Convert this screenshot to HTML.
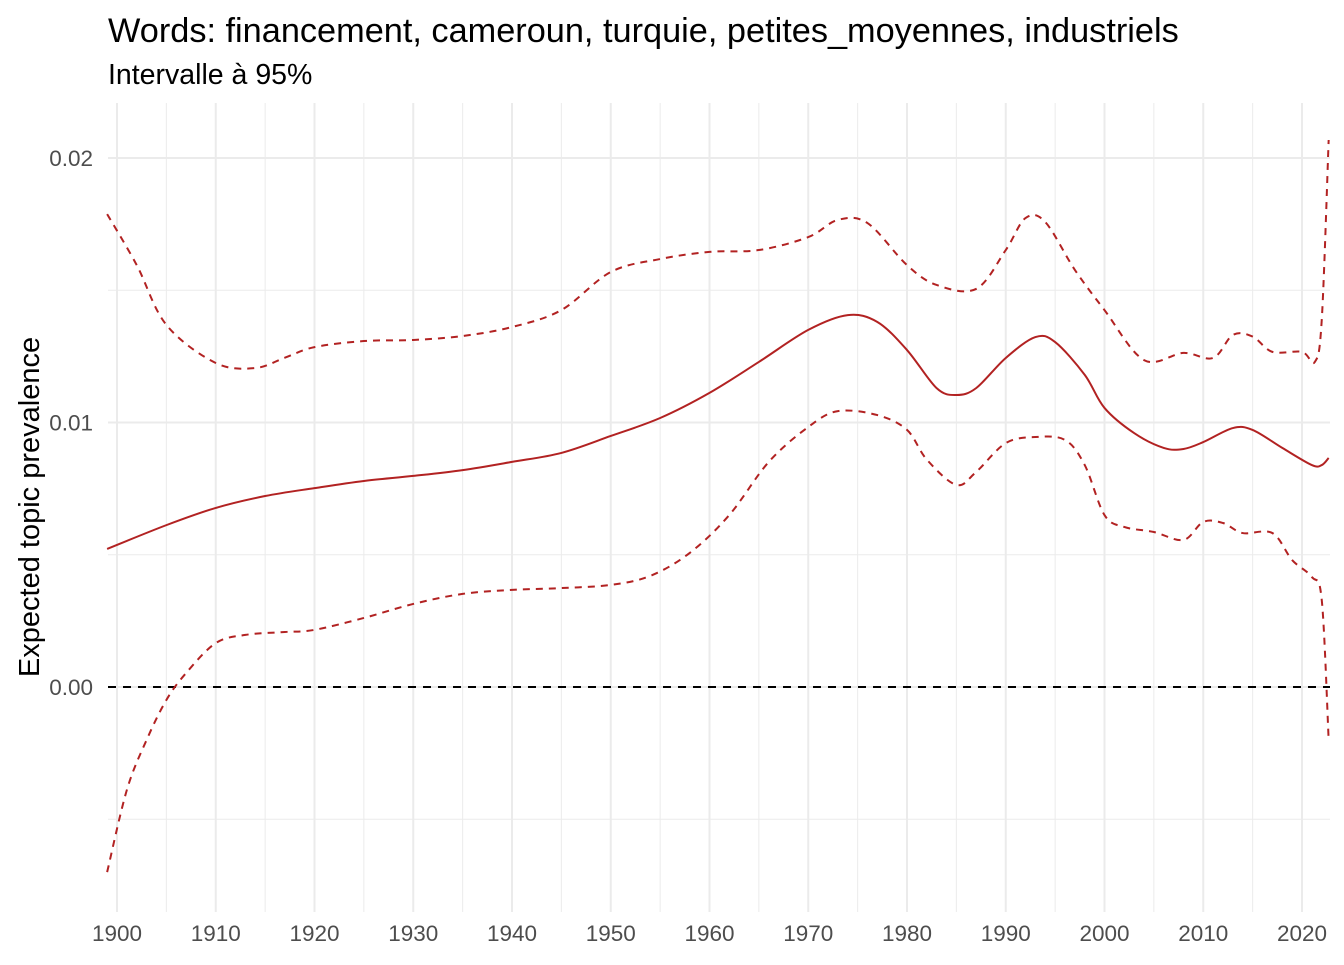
<!DOCTYPE html>
<html><head><meta charset="utf-8"><style>
body{margin:0;background:#fff;}
svg text{font-family:"Liberation Sans",Arial,sans-serif;}
</style></head><body>
<svg id="chart" width="1344" height="960" viewBox="0 0 1344 960">
<rect width="1344" height="960" fill="#fff"/>
<text x="108" y="42" font-size="34.3" fill="#000">Words: financement, cameroun, turquie, petites_moyennes, industriels</text>
<text x="108" y="84" font-size="28.5" fill="#000">Intervalle à 95%</text>
<text transform="translate(39,507) rotate(-90)" text-anchor="middle" font-size="29" fill="#000">Expected topic prevalence</text>
<g id="grid"></g>
<g id="ticks"></g>
<g id="series"></g>
</svg>
<script>
const xTicks=[1900,1910,1920,1930,1940,1950,1960,1970,1980,1990,2000,2010,2020];
const yTicks=[0,0.01,0.02];
const yTickLabels=["0.00","0.01","0.02"];
const meanYears=[1899,1905,1910,1915,1920,1925,1930,1935,1940,1945,1950,1955,1960,1965,1970,1974,1977,1980,1983,1985,1987,1990,1993,1995,1998,2000,2003,2006,2008,2010,2013,2015,2018,2021,2022,2022.7];
const meanVals=[0.00522,0.00612,0.00677,0.00722,0.00752,0.00779,0.00798,0.0082,0.00851,0.00885,0.00949,0.01017,0.01112,0.01229,0.0135,0.01406,0.0138,0.01274,0.0113,0.01104,0.0113,0.01244,0.01323,0.01304,0.0118,0.01055,0.0096,0.00904,0.009,0.00926,0.00979,0.00972,0.00904,0.00839,0.00839,0.00866];
const upperYears=[1899,1902,1905,1910,1914,1917,1920,1925,1930,1935,1940,1945,1950,1955,1960,1965,1970,1973,1976,1980,1983,1987,1990,1992,1994,1997,2000,2004,2008,2011,2013,2015,2017,2020,2021.3,2022,2022.7];
const upperVals=[0.01788,0.01595,0.01369,0.01225,0.01206,0.01245,0.01285,0.01308,0.01312,0.01327,0.01361,0.01425,0.01569,0.01618,0.01645,0.01652,0.01701,0.01766,0.01754,0.01595,0.0152,0.01505,0.01652,0.01773,0.01758,0.01577,0.01425,0.01236,0.01263,0.01244,0.01331,0.01325,0.01267,0.01267,0.01229,0.01388,0.02068];
const lowerYears=[1899,1901,1903,1905,1907,1910,1913,1917,1920,1925,1930,1935,1940,1945,1950,1954,1958,1962,1966,1970,1973,1977,1980,1982,1985,1987,1990,1993,1996,1998,2000,2002,2005,2008,2010,2012,2014,2017,2019,2021,2022,2022.7];
const lowerVals=[-0.007,-0.00389,-0.002,-0.00049,0.00053,0.00166,0.00197,0.00208,0.00216,0.00261,0.00314,0.00352,0.00367,0.00374,0.00386,0.0042,0.00507,0.0065,0.00851,0.00983,0.01043,0.01028,0.00972,0.0086,0.00764,0.00813,0.00922,0.00945,0.00934,0.00839,0.0065,0.00605,0.00586,0.00556,0.00624,0.0062,0.00582,0.00582,0.0048,0.00416,0.00329,-0.002];

const X=y=>117+(y-1900)*9.875;
const Y=v=>687-v*26450;
const ns="http://www.w3.org/2000/svg";
function mk(tag,attrs,parent){const e=document.createElementNS(ns,tag);for(const k in attrs)e.setAttribute(k,attrs[k]);parent.appendChild(e);return e;}
const grid=document.getElementById('grid'),ticks=document.getElementById('ticks'),series=document.getElementById('series');
const L=108,R=1330,T=103,B=912;
for(let yr=1895;yr<=2025;yr+=5){const x=X(yr);if(x<L||x>R)continue;const major=yr%10===0;
 const l=mk('line',{x1:x,x2:x,y1:T,y2:B,stroke:'#ebebeb','stroke-width':major?2:1},grid);
 
 }
for(let v=-0.005;v<=0.0201;v+=0.005){const y=Y(v);const major=Math.abs(Math.round(v*1000)%10)===0;
 const l=mk('line',{x1:L,x2:R,y1:y,y2:y,stroke:'#ebebeb','stroke-width':major?2:1},grid);
 
 }
xTicks.forEach(t=>{const e=mk('text',{x:X(t),y:941,'text-anchor':'middle','font-size':22.5,fill:'#4d4d4d'},ticks);e.textContent=t;
 
 });
yTicks.forEach((t,i)=>{const e=mk('text',{x:93,y:Y(t)+8,'text-anchor':'end','font-size':22.5,fill:'#4d4d4d'},ticks);e.textContent=yTickLabels[i];
 
 });
const zl=mk('line',{x1:L,x2:R,y1:Y(0),y2:Y(0),stroke:'#000','stroke-width':2,'stroke-dasharray':'8,7'},series);


function path(xs,vs){const p=xs.map((x,i)=>[X(x),Y(vs[i])]);let d='M'+p[0][0]+','+p[0][1];
 for(let i=0;i<p.length-1;i++){const p0=p[Math.max(0,i-1)],p1=p[i],p2=p[i+1],p3=p[Math.min(p.length-1,i+2)];
  const c1=[p1[0]+(p2[0]-p0[0])/6,p1[1]+(p2[1]-p0[1])/6],c2=[p2[0]-(p3[0]-p1[0])/6,p2[1]-(p3[1]-p1[1])/6];
  d+=`C${c1[0]},${c1[1]} ${c2[0]},${c2[1]} ${p2[0]},${p2[1]}`;}return d;}
const up=mk('path',{d:path(upperYears,upperVals),fill:'none',stroke:'#b22222','stroke-width':2,'stroke-dasharray':'7,6'},series);


const lo=mk('path',{d:path(lowerYears,lowerVals),fill:'none',stroke:'#b22222','stroke-width':2,'stroke-dasharray':'7,6'},series);


const mn=mk('path',{d:path(meanYears,meanVals),fill:'none',stroke:'#b22222','stroke-width':2},series);


</script>
</body></html>
